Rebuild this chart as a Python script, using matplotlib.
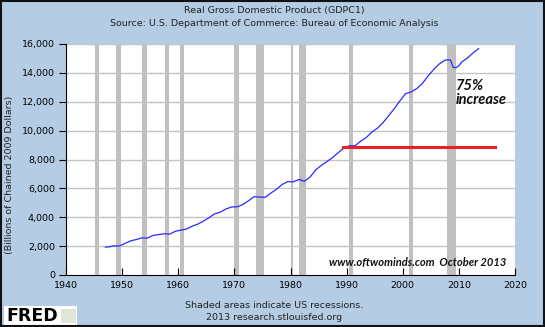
import matplotlib
matplotlib.use("Agg")
import matplotlib.pyplot as plt
from matplotlib.patches import Rectangle

# Data: real GDP (billions of chained 2009 dollars)
years = [1947.0, 1947.5, 1948.5, 1949.5, 1950.5, 1951.5, 1952.5, 1953.5, 1954.5,
         1955.5, 1956.5, 1957.5, 1958.5, 1959.5, 1960.5, 1961.5, 1962.5, 1963.5,
         1964.5, 1965.5, 1966.5, 1967.5, 1968.5, 1969.5, 1970.5, 1971.5, 1972.5,
         1973.5, 1974.5, 1975.5, 1976.5, 1977.5, 1978.5, 1979.5, 1980.5, 1981.5,
         1982.5, 1983.5, 1984.5, 1985.5, 1986.5, 1987.5, 1988.5, 1989.5, 1990.5,
         1991.5, 1992.5, 1993.5, 1994.5, 1995.5, 1996.5, 1997.5, 1998.5, 1999.5,
         2000.5, 2001.5, 2002.5, 2003.5, 2004.5, 2005.5, 2006.5, 2007.5, 2008.0,
         2008.5, 2009.0, 2009.5, 2010.0, 2010.5, 2011.5, 2012.5, 2013.5]
gdp = [1933, 1939, 2020, 2008, 2184, 2360, 2456, 2571, 2556,
       2739, 2797, 2857, 2835, 3031, 3108, 3188, 3383, 3530,
       3735, 3976, 4239, 4355, 4570, 4712, 4722, 4878, 5134,
       5424, 5397, 5385, 5675, 5937, 6267, 6466, 6451, 6618,
       6491, 6792, 7285, 7594, 7861, 8133, 8475, 8786, 8955,
       8948, 9267, 9521, 9905, 10175, 10561, 11035, 11526, 12066,
       12560, 12682, 12909, 13271, 13774, 14234, 14614, 14874, 14900,
       14890, 14375, 14356, 14500, 14750, 15021, 15369, 15680]

rec_start = [1945.1, 1948.85, 1953.5, 1957.6, 1960.3, 1969.9, 1973.85, 1980.0, 1981.5, 1990.5, 2001.2, 2007.9]
rec_end = [1945.8, 1949.8, 1954.35, 1958.3, 1961.1, 1970.9, 1975.2, 1980.5, 1982.85, 1991.2, 2001.9, 2009.5]

ref_level = 8900
ref_start, ref_end = 1989.4, 2016.5

xticks = [1940, 1950, 1960, 1970, 1980, 1990, 2000, 2010, 2020]
yticks = [0, 2000, 4000, 6000, 8000, 10000, 12000, 14000, 16000]

bg = '#b4cde4'
fig = plt.figure(figsize=(5.45, 3.27), dpi=100, facecolor=bg)
ax = fig.add_axes([66/545, 1-275/327, (515-66)/545, (275-44)/327])
ax.set_facecolor('white')
ax.set_xlim(1940, 2020)
ax.set_ylim(0, 16000)

for s, e in zip(rec_start, rec_end):
    ax.axvspan(s, e, color='#c0c0c0', lw=0, zorder=1)
for yv in yticks[1:]:
    ax.axhline(yv, color='#c4c4c4', lw=1.0, zorder=2)

ax.plot(years, gdp, color='#2a2aff', lw=0.9, zorder=4)
ax.plot([ref_start, ref_end], [ref_level, ref_level], color='#e8202a', lw=2.2, zorder=5)

ax.set_xticks(xticks)
ax.set_yticks(yticks)
ax.set_yticklabels(['0'] + [f'{v:,}' for v in yticks[1:]])
ax.tick_params(axis='x', direction='in', length=5, width=0.8, labelsize=6.8, pad=4)
ax.tick_params(axis='y', direction='out', length=5, width=0.8, labelsize=6.8, pad=3)
for sp in ['top', 'right']:
    ax.spines[sp].set_visible(False)
for sp in ['left', 'bottom']:
    ax.spines[sp].set_color('black')
    ax.spines[sp].set_linewidth(0.8)

ax.text(2009.5, 13550, '75%\nincrease', fontsize=10.5, fontweight='bold', fontstyle='italic',
        family='Lato', color='#111111', va='top', ha='left', linespacing=1.0, zorder=6)
ax.text(2018.5, 500, 'www.oftwominds.com  October 2013', fontsize=8, fontweight='bold',
        fontstyle='italic', family='Lato', color='#111111', ha='right', va='bottom', zorder=6)

fig.text(274/545, 1-10/327, 'Real Gross Domestic Product (GDPC1)', ha='center', va='center', fontsize=6.8, color='#222222')
fig.text(274/545, 1-23/327, 'Source: U.S. Department of Commerce: Bureau of Economic Analysis', ha='center', va='center', fontsize=6.8, color='#222222')
fig.text(10/545, 1-175/327, '(Billions of Chained 2009 Dollars)', rotation=90, ha='center', va='center', fontsize=6.8, color='#222222')
fig.text(274/545, 1-305/327, 'Shaded areas indicate US recessions.', ha='center', va='center', fontsize=6.8, color='#222222')
fig.text(274/545, 1-317/327, '2013 research.stlouisfed.org', ha='center', va='center', fontsize=6.8, color='#222222')

# FRED logo
fig.patches.append(Rectangle((4/545, 1-325/327), 73/545, 19/327, transform=fig.transFigure,
                             facecolor='white', edgecolor='none', zorder=1))
fig.text(6/545, 1-316/327, 'FRED', ha='left', va='center', fontsize=12.5, fontweight='heavy', color='black', zorder=2)
fig.patches.append(Rectangle((61/545, 1-323/327), 15/545, 14/327, transform=fig.transFigure,
                             facecolor='#dfe8d8', edgecolor='none', zorder=2))

# outer border
fig.patches.append(Rectangle((0.001, 0.002), 0.997, 0.995, transform=fig.transFigure,
                             facecolor='none', edgecolor='#111111', lw=1.5, zorder=10))

fig.savefig('out.png', dpi=100, facecolor=bg)
